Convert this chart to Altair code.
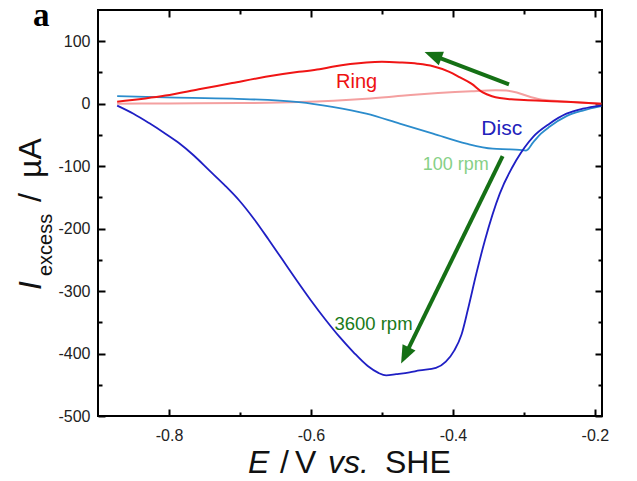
import math
import altair as alt
import pandas as pd

# ---------------- data ----------------
DISC_3600_E = [-0.873, -0.85, -0.828, -0.805, -0.786, -0.765, -0.744, -0.722, -0.701, -0.68,
               -0.66, -0.64, -0.62, -0.60, -0.58, -0.56, -0.54, -0.52, -0.505, -0.494,
               -0.48, -0.461, -0.447, -0.424, -0.41, -0.398, -0.388, -0.379, -0.367, -0.355,
               -0.334, -0.311, -0.287, -0.264, -0.24, -0.217, -0.191]
DISC_3600_I = [-3, -16, -31, -48, -63, -83, -106, -130, -155, -185,
               -217, -250, -283, -315, -345, -373, -398, -420, -431, -435,
               -433, -430, -427, -423, -413, -395, -370, -330, -272, -219,
               -144, -91, -53, -32, -16, -8, -3]

DISC_100_E = [-0.873, -0.805, -0.711, -0.617, -0.57, -0.522, -0.475, -0.428, -0.381, -0.344,
              -0.32, -0.306, -0.297, -0.287, -0.276, -0.264, -0.24, -0.217, -0.191]
DISC_100_I = [12, 10, 8, 2.6, -5, -16, -32, -48, -64, -72,
              -73, -74, -75, -62, -48, -37, -20, -11, -4]

RING_3600_E = [-0.873, -0.805, -0.758, -0.711, -0.664, -0.617, -0.588, -0.57, -0.522, -0.5,
               -0.475, -0.45, -0.428, -0.405, -0.39, -0.374, -0.358, -0.345, -0.334, -0.318,
               -0.3, -0.283, -0.24, -0.191]
RING_3600_I = [3, 13, 23, 33, 43, 51, 55, 59, 66, 67,
               66, 64, 60, 51, 42, 32, 18, 12, 9, 7,
               6, 5, 3, 0]

RING_100_E = [-0.873, -0.8, -0.7, -0.617, -0.522, -0.468, -0.421, -0.374, -0.34, -0.325,
              -0.31, -0.297, -0.278, -0.25, -0.22, -0.191]
RING_100_I = [0, 0.5, 1, 2.6, 8, 13, 17, 20, 21.5, 21,
              18, 13, 7, 4, 2, 0]

COLORS = {"ring100": "#f4a0a0", "disc100": "#2b8ccc", "ring3600": "#f01515", "disc3600": "#1f1fc4"}

X_MAJOR = [-0.8, -0.6, -0.4, -0.2]
X_MINOR = [-0.7, -0.5, -0.3]
Y_MAJOR = [100, 0, -100, -200, -300, -400, -500]
Y_MINOR = [50, -50, -150, -250, -350, -450]

# annotations
LABEL_TEXT = ["Ring", "Disc", "100 rpm", "3600 rpm"]
LABEL_E = [-0.5647, -0.36, -0.4425, -0.567]
LABEL_I = [24.5, -50.7, -106.7, -361.6]
LABEL_COLOR = ["#ee1111", "#2222bb", "#86d086", "#1a7a1a"]
LABEL_SIZE = [20, 21, 18, 18.5]

ARROW_TAIL_E = [-0.321, -0.330]
ARROW_TAIL_I = [31, -84]
ARROW_TIP_E = [-0.440, -0.473]
ARROW_TIP_I = [82.6, -416]

# ---------------- layout ----------------
W, H = 504, 406
XDOM = [-0.9, -0.19]
YDOM = [-500, 150]
PX_X = W / (XDOM[1] - XDOM[0])
PX_Y = H / (YDOM[1] - YDOM[0])
FONT = "Liberation Sans"
HEAD_LEN = 18

xs = alt.Scale(domain=XDOM, nice=False, zero=False)
ys = alt.Scale(domain=YDOM, nice=False, zero=False)

rows = []
for name, es, is_ in [("disc3600", DISC_3600_E, DISC_3600_I), ("disc100", DISC_100_E, DISC_100_I),
                      ("ring3600", RING_3600_E, RING_3600_I), ("ring100", RING_100_E, RING_100_I)]:
    for k, (e, i) in enumerate(zip(es, is_)):
        rows.append({"E": e, "I": i, "series": name, "k": k})
curves = pd.DataFrame(rows)

# arrows: shaft ends at the head base, head drawn as rotated custom symbol
arows = []
for te, ti, he, hi in zip(ARROW_TAIL_E, ARROW_TAIL_I, ARROW_TIP_E, ARROW_TIP_I):
    dx = (he - te) * PX_X
    dy = -(hi - ti) * PX_Y
    L = math.hypot(dx, dy)
    ang = math.degrees(math.atan2(dx, -dy)) % 360
    be = he - (dx / L) * (HEAD_LEN - 2) / PX_X
    bi = hi + (dy / L) * (HEAD_LEN - 2) / PX_Y
    arows.append({"te": te, "ti": ti, "be": be, "bi": bi, "he": he, "hi": hi, "ang": ang})
arrows = pd.DataFrame(arows)

labels = pd.DataFrame({"t": LABEL_TEXT, "E": LABEL_E, "I": LABEL_I,
                       "c": LABEL_COLOR, "s": LABEL_SIZE})

noax = None


def curve_layer(name, width, axes=(None, None)):
    return alt.Chart(curves).transform_filter(alt.datum.series == name).mark_line(
        color=COLORS[name], strokeWidth=width, interpolate="monotone"
    ).encode(
        x=alt.X("E:Q", scale=xs, axis=axes[0]),
        y=alt.Y("I:Q", scale=ys, axis=axes[1]),
        order="k:Q",
    )


main_x_axis = alt.Axis(orient="bottom", values=X_MAJOR, title=None, grid=False,
                       labelExpr="(datum.value < 0 ? '-' : '') + format(abs(datum.value), '.1f')",
                       domain=False, ticks=False, tickSize=0, labelPadding=11, labelFont=FONT,
                       labelFontSize=16, labelColor="#222222", labelFlush=False, labelOverlap=False)
main_y_axis = alt.Axis(orient="left", values=Y_MAJOR, title=None, grid=False,
                       labelExpr="(datum.value < 0 ? '-' : '') + format(abs(datum.value), 'd')",
                       domain=False, ticks=False, tickSize=0, labelPadding=8, labelFont=FONT,
                       labelFontSize=16, labelColor="#222222", labelOverlap=False)


def tick_axis(orient, values, size):
    return alt.Axis(orient=orient, values=values, title=None, grid=False, domain=False,
                    labels=False, ticks=True, tickSize=size, tickWidth=2, tickColor="black",
                    offset=-size)


def carrier(xo, yo, xv, yv, size):
    return alt.Chart(curves).mark_line(opacity=0).encode(
        x=alt.X("E:Q", scale=xs, axis=tick_axis(xo, xv, size)),
        y=alt.Y("I:Q", scale=ys, axis=tick_axis(yo, yv, size)),
        detail="series:N",
    )


carriers = [
    carrier("bottom", "left", X_MAJOR, Y_MAJOR, 7),
    carrier("bottom", "left", X_MINOR, Y_MINOR, 4),
    carrier("top", "right", X_MAJOR, Y_MAJOR, 7),
    carrier("top", "right", X_MINOR, Y_MINOR, 4),
]

shafts = alt.Chart(arrows).mark_rule(color="#157015", strokeWidth=4).encode(
    x=alt.X("te:Q", scale=xs, axis=noax), y=alt.Y("ti:Q", scale=ys, axis=noax),
    x2="be:Q", y2="bi:Q",
)
heads = alt.Chart(arrows).mark_point(
    shape="M0,0 L-0.8,2 L0.8,2 Z", filled=True, color="#157015", opacity=1,
    size=HEAD_LEN * HEAD_LEN, strokeWidth=0
).encode(
    x=alt.X("he:Q", scale=xs, axis=noax), y=alt.Y("hi:Q", scale=ys, axis=noax),
    angle=alt.Angle("ang:Q", scale=None),
)

ann = alt.Chart(labels).mark_text(font=FONT, align="left", baseline="alphabetic").encode(
    x=alt.X("E:Q", scale=xs, axis=noax), y=alt.Y("I:Q", scale=ys, axis=noax),
    text="t:N", color=alt.Color("c:N", scale=None), size=alt.Size("s:Q", scale=None),
)


def ptext(txt, x, y, size, style="normal", angle=0, weight="normal", font=FONT, color="#111111"):
    return alt.Chart(pd.DataFrame({"t": [txt]})).mark_text(
        font=font, fontSize=size, fontStyle=style, fontWeight=weight, angle=angle,
        align="left", baseline="alphabetic", color=color
    ).encode(text="t:N", x=alt.value(x), y=alt.value(y))


XT = 463
titles = [
    # x title: E / V vs. SHE
    ptext("E", 150, XT, 32, "italic"),
    ptext("/", 182, XT, 32),
    ptext("V", 197, XT, 32),
    ptext("vs.", 230, XT, 32, "italic"),
    ptext("SHE", 287, XT, 32),
    # y title: I_excess / µA
    ptext("I", -57, 280, 32, "italic", angle=270),
    ptext("excess", -46, 266, 20, angle=270),
    ptext("/", -57, 192, 32, angle=270),
    ptext("\u00b5A", -57, 168, 32, angle=270),
    # panel letter
    ptext("a", -65, 16, 33, weight="bold", font="Liberation Serif", color="#000000"),
]

chart = alt.layer(
    curve_layer("ring100", 2, (main_x_axis, main_y_axis)),
    curve_layer("disc100", 1.8),
    curve_layer("ring3600", 2),
    curve_layer("disc3600", 1.8),
    *carriers,
    shafts, heads, ann, *titles,
).resolve_axis(x="independent", y="independent").properties(
    width=W, height=H, autosize="none",
    padding={"left": 90, "top": 2, "right": 20, "bottom": 64},
    background="white",
).configure_view(stroke="black", strokeWidth=2)

chart.save("out.html", embed_options={"renderer": "svg", "actions": False})
